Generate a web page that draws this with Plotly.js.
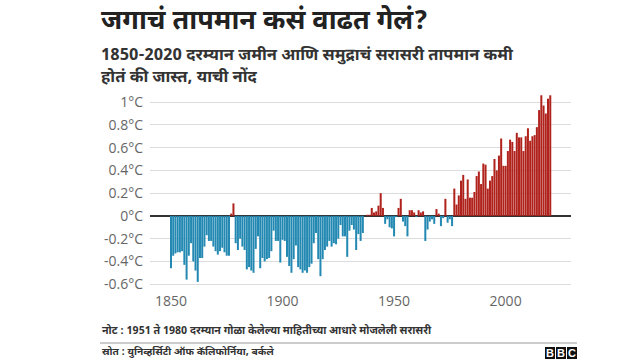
<!DOCTYPE html>
<html>
<head>
<meta charset="utf-8">
<script src="https://cdn.plot.ly/plotly-3.0.1.min.js"></script>
<style>
html,body{margin:0;padding:0;background:#fff;}
#chart{width:640px;height:360px;}
</style>
</head>
<body>
<div id="chart"></div>
<script>
// Data: annual land+ocean temperature anomaly (°C vs 1951-1980), 1850-2020
const startYear = 1850;
const anomalies = [
  // 1850s
  -0.46, -0.35, -0.33, -0.32, -0.32, -0.31, -0.43, -0.56, -0.35, -0.24,
  // 1860s
  -0.40, -0.48, -0.58, -0.37, -0.37, -0.27, -0.17, -0.22, -0.22, -0.27,
  // 1870s
  -0.31, -0.34, -0.31, -0.28, -0.32, -0.35, -0.35, 0.02, 0.11, -0.24,
  // 1880s
  -0.30, -0.20, -0.27, -0.30, -0.47, -0.45, -0.48, -0.50, -0.29, -0.18,
  // 1890s
  -0.46, -0.37, -0.40, -0.38, -0.37, -0.31, -0.13, -0.22, -0.22, -0.41,
  // 1900s
  -0.21, -0.22, -0.36, -0.44, -0.50, -0.38, -0.26, -0.45, -0.47, -0.50,
  // 1910s
  -0.48, -0.50, -0.45, -0.42, -0.24, -0.15, -0.38, -0.53, -0.38, -0.30,
  // 1920s
  -0.27, -0.22, -0.27, -0.24, -0.25, -0.20, -0.08, -0.18, -0.18, -0.36,
  // 1930s
  -0.13, -0.08, -0.12, -0.30, -0.16, -0.22, -0.15, 0.00, 0.01, 0.01,
  // 1940s
  0.07, 0.03, 0.04, 0.09, 0.20, 0.07, -0.07, -0.03, -0.10, -0.11,
  // 1950s
  -0.18, -0.01, 0.07, 0.15, -0.05, -0.09, -0.18, 0.05, 0.05, 0.03,
  // 1960s
  -0.01, 0.05, 0.03, 0.04, -0.22, -0.12, -0.05, -0.03, -0.07, 0.06,
  // 1970s
  0.02, -0.09, -0.02, 0.15, -0.06, -0.03, -0.09, 0.24, 0.10, 0.18,
  // 1980s
  0.31, 0.36, 0.15, 0.32, 0.16, 0.16, 0.21, 0.35, 0.39, 0.28,
  // 1990s
  0.46, 0.45, 0.24, 0.31, 0.35, 0.50, 0.40, 0.53, 0.68, 0.44,
  // 2000s
  0.44, 0.57, 0.67, 0.65, 0.57, 0.73, 0.69, 0.69, 0.57, 0.70,
  // 2010s
  0.77, 0.66, 0.70, 0.71, 0.78, 0.93, 1.06, 0.97, 0.90, 1.03,
  // 2020
  1.06
];
const years = anomalies.map((v, i) => startYear + i);

const xTickVals = [1850, 1900, 1950, 2000];
const xTickText = ['1850', '1900', '1950', '2000'];
const yTickVals = [-0.6, -0.4, -0.2, 0, 0.2, 0.4, 0.6, 0.8, 1];
const yTickText = ['-0.6°C', '-0.4°C', '-0.2°C', '0°C', '0.2°C', '0.4°C', '0.6°C', '0.8°C', '1°C'];

const titleText = 'जगाचं तापमान कसं वाढत गेलं?';
const subtitleLine1 = '1850-2020 दरम्यान जमीन आणि समुद्राचं सरासरी तापमान कमी';
const subtitleLine2 = 'होतं की जास्त, याची नोंद';
const noteText = 'नोट : 1951 ते 1980 दरम्यान गोळा केलेल्या माहितीच्या आधारे मोजलेली सरासरी';
const sourceText = 'स्रोत : युनिव्हर्सिटी ऑफ कॅलिफोर्निया, बर्कले';

const BLUE = '#2389b2';
const RED = '#b0221c';
const barColors = anomalies.map(v => v < 0 ? BLUE : RED);

// Plot geometry (pixels)
const W = 640, H = 360;
const M = {l: 150, r: 69, t: 93, b: 69};
const pw = W - M.l - M.r, ph = H - M.t - M.b;
const px = x => (x - M.l) / pw;
const py = y => (H - M.b - y) / ph;

const devFont = '"Noto Sans Devanagari", "Noto Sans", "Lohit Devanagari", "Mukta", sans-serif';

const annotations = [
  {text: '<b>' + titleText + '</b>', x: px(99), y: py(22), font: {size: 27, color: '#222', family: devFont}},
  {text: '<b>' + subtitleLine1 + '</b>', x: px(99), y: py(56), font: {size: 16.5, color: '#333', family: devFont}},
  {text: '<b>' + subtitleLine2 + '</b>', x: px(99), y: py(78), font: {size: 16.5, color: '#333', family: devFont}},
  {text: '<b>' + noteText + '</b>', x: px(100), y: py(330), font: {size: 10.7, color: '#333', family: devFont}},
  {text: '<b>' + sourceText + '</b>', x: px(100), y: py(352), font: {size: 10.2, color: '#333', family: devFont}}
].map(a => Object.assign({xref: 'paper', yref: 'paper', xanchor: 'left', yanchor: 'middle', showarrow: false}, a));

// BBC blocks
const bbcLetters = ['B', 'B', 'C'];
const shapes = [
  {type: 'line', xref: 'paper', yref: 'paper', x0: px(100), x1: px(577), y0: py(343), y1: py(343), line: {color: '#999', width: 1}}
];
bbcLetters.forEach((ch, i) => {
  const x0 = 545 + i * 11;
  shapes.push({type: 'rect', xref: 'paper', yref: 'paper', x0: px(x0), x1: px(x0 + 10), y0: py(359), y1: py(347), fillcolor: '#111', line: {width: 0}});
  annotations.push({text: '<b>' + ch + '</b>', xref: 'paper', yref: 'paper', x: px(x0 + 5), y: py(353), xanchor: 'center', yanchor: 'middle', showarrow: false, font: {size: 11, color: '#fff', family: 'Liberation Sans, Arial, sans-serif'}});
});

const trace = {
  type: 'bar',
  x: years,
  y: anomalies,
  marker: {color: barColors, line: {width: 0}},
  hoverinfo: 'skip'
};

const layout = {
  width: W, height: H,
  margin: M,
  paper_bgcolor: '#fff',
  plot_bgcolor: '#fff',
  showlegend: false,
  bargap: 0.1,
  font: {family: '"Open Sans", sans-serif', color: '#666'},
  xaxis: {
    range: [1840.6, 2029.3],
    tickvals: xTickVals, ticktext: xTickText,
    showgrid: false, zeroline: false, showline: false, ticks: '',
    tickfont: {size: 14, color: '#666', family: '"Open Sans", sans-serif'},
    fixedrange: true
  },
  yaxis: {
    range: [-0.66, 1.08],
    tickvals: yTickVals, ticktext: yTickText,
    showgrid: true, gridcolor: '#dcdcdc', gridwidth: 1,
    zeroline: true, zerolinecolor: '#333', zerolinewidth: 1.5,
    showline: false, ticks: '',
    ticklabelstandoff: 6,
    tickfont: {size: 14, color: '#666', family: '"Open Sans", sans-serif'},
    fixedrange: true
  },
  annotations: annotations,
  shapes: shapes
};

Plotly.newPlot('chart', [trace], layout, {displayModeBar: false, staticPlot: true});
</script>
</body>
</html>
